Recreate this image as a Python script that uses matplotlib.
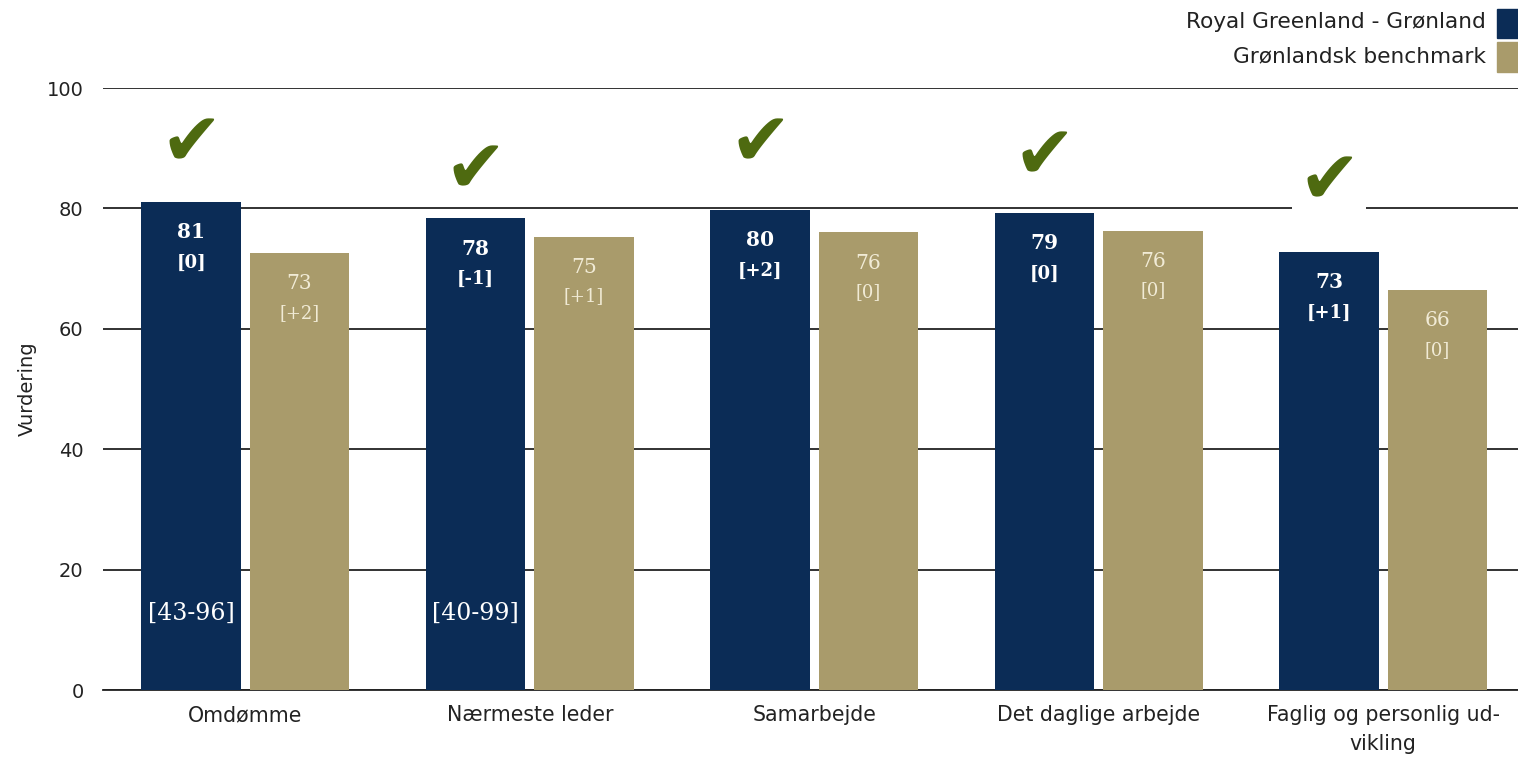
import matplotlib
matplotlib.use("Agg")
import matplotlib.pyplot as plt
from matplotlib.patches import Rectangle
import numpy as np

categories = ["Omdømme", "Nærmeste leder", "Samarbejde", "Det daglige arbejde",
              "Faglig og personlig ud-\nvikling"]
royal = [81.1, 78.4, 79.8, 79.3, 72.8]
bench = [72.6, 75.3, 76.0, 76.3, 66.4]
royal_labels = ["81", "78", "80", "79", "73"]
royal_delta = ["[0]", "[-1]", "[+2]", "[0]", "[+1]"]
bench_labels = ["73", "75", "76", "76", "66"]
bench_delta = ["[+2]", "[+1]", "[0]", "[0]", "[0]"]
ranges = ["[43-96]", "[40-99]", None, None, None]
check_y = [90.5, 86.0, 90.5, 88.4, 84.2]
series_names = ["Royal Greenland - Grønland", "Grønlandsk benchmark"]
yticks = [0, 20, 40, 60, 80, 100]

DARK = "#0b2c56"
GOLD = "#a99b6b"
CHECK = "#4e6a10"
TXT = "#222222"

fig = plt.figure(figsize=(15.18, 7.59), dpi=100)
ax = fig.add_axes([103/1518, 69/759, 1422.5/1518, 602/759])
x = np.arange(len(categories))
w = 0.35
off = 0.19
ax.bar(x - off, royal, w, color=DARK, zorder=3)
ax.bar(x + off, bench, w, color=GOLD, zorder=3)

ax.set_xlim(-0.5, len(categories) - 0.5)
ax.set_ylim(0, 100)
ax.set_yticks(yticks)
ax.yaxis.grid(True, color=TXT, linewidth=1.3, zorder=0)
ax.set_axisbelow(True)
for s in ["top", "right", "left"]:
    ax.spines[s].set_visible(False)
ax.spines["bottom"].set_color(TXT)
ax.spines["bottom"].set_linewidth(1.3)
ax.tick_params(axis="both", length=0, colors=TXT)
ax.tick_params(axis="y", pad=14, labelsize=14)
ax.tick_params(axis="x", pad=11)
ax.set_xticks(x)
ax.set_xticklabels(categories, fontsize=14.8, linespacing=1.55, va="top")
ax.set_ylabel("Vurdering", fontsize=14, labelpad=7, color=TXT)

for i in range(len(categories)):
    ax.annotate(royal_labels[i], (x[i] - off, royal[i]), xytext=(0, -22),
                textcoords="offset points", ha="center", va="center",
                color="white", fontsize=14.5, fontweight="bold", family="DejaVu Serif", zorder=5)
    ax.annotate(royal_delta[i], (x[i] - off, royal[i]), xytext=(0, -44),
                textcoords="offset points", ha="center", va="center",
                color="white", fontsize=13, fontweight="bold", family="DejaVu Serif", zorder=5)
    ax.annotate(bench_labels[i], (x[i] + off, bench[i]), xytext=(0, -22),
                textcoords="offset points", ha="center", va="center",
                color="#f1ebd6", fontsize=14.5, family="DejaVu Serif", zorder=5)
    ax.annotate(bench_delta[i], (x[i] + off, bench[i]), xytext=(0, -43),
                textcoords="offset points", ha="center", va="center",
                color="#f1ebd6", fontsize=13, family="DejaVu Serif", zorder=5)
    if ranges[i]:
        ax.text(x[i] - off, 12.8, ranges[i], ha="center", va="center",
                color="white", fontsize=17, family="DejaVu Serif", zorder=5)
    ax.add_patch(Rectangle((x[i] - off - 0.13, check_y[i] - 5.0), 0.26, 10.0,
                           facecolor="white", edgecolor="none", zorder=4))
    ax.text(x[i] - off, check_y[i], "\u2714", ha="center", va="center",
            color=CHECK, fontsize=53, family="DejaVu Sans", zorder=6)

# legend
fig.text(1486/1518, 1 - 22/759, series_names[0], ha="right", va="center",
         fontsize=15.6, color=TXT)
fig.text(1486/1518, 1 - 56/759, series_names[1], ha="right", va="center",
         fontsize=15.6, color=TXT)
fig.patches.append(Rectangle((1497/1518, 1 - 38/759), 30/1518, 29/759,
                             transform=fig.transFigure, color=DARK, figure=fig))
fig.patches.append(Rectangle((1497/1518, 1 - 72/759), 30/1518, 30/759,
                             transform=fig.transFigure, color=GOLD, figure=fig))

fig.savefig("out.png", dpi=100)
